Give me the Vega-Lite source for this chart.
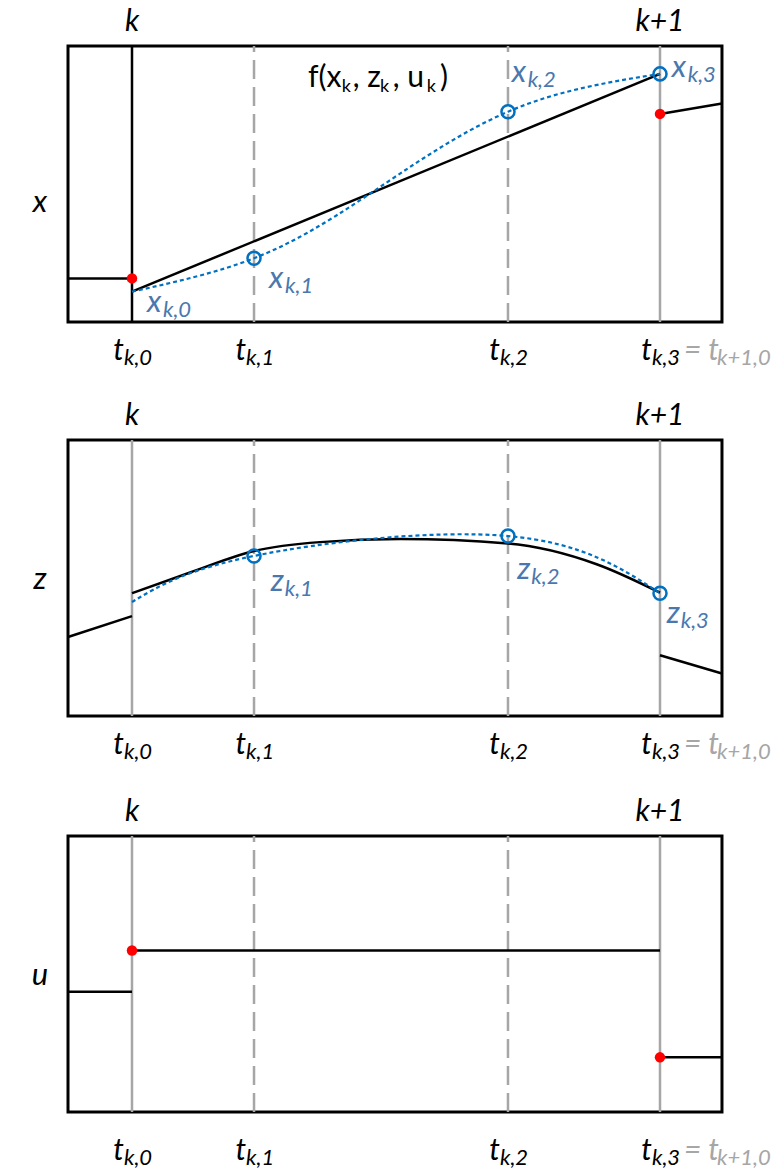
{
  "$schema": "https://vega.github.io/schema/vega-lite/v6.json",
  "padding": 0,
  "spacing": 0,
  "bounds": "flush",
  "background": "#ffffff",
  "config": {
    "view": {"stroke": null},
    "text": {"font": "Lato", "fontStyle": "italic", "baseline": "alphabetic", "align": "left"}
  },
  "resolve": {"scale": {"x": "independent", "y": "independent", "color": "independent", "strokeDash": "independent"}},
  "datasets": {
    "frame": [{"t": -0.1212, "t_end": 1.1174, "v": 0, "v_end": 1}],
    "guides_x": [
      {"t": 0, "v": 0, "v_end": 1, "kind": "start"},
      {"t": 0.2311, "v": 0, "v_end": 1, "kind": "colloc"},
      {"t": 0.7121, "v": 0, "v_end": 1, "kind": "colloc"},
      {"t": 1, "v": 0, "v_end": 1, "kind": "bound"}
    ],
    "guides_zu": [
      {"t": 0, "v": 0, "v_end": 1, "kind": "bound"},
      {"t": 0.2311, "v": 0, "v_end": 1, "kind": "colloc"},
      {"t": 0.7121, "v": 0, "v_end": 1, "kind": "colloc"},
      {"t": 1, "v": 0, "v_end": 1, "kind": "bound"}
    ],
    "steps": [{"t": 0, "v": 1.055, "txt": "k"}, {"t": 1, "v": 1.055, "txt": "k+1"}],
    "t_ticks": [
      {"t": 0, "v": -0.138, "sub": "k,0"},
      {"t": 0.2311, "v": -0.138, "sub": "k,1"},
      {"t": 0.7121, "v": -0.138, "sub": "k,2"},
      {"t": 1, "v": -0.138, "sub": "k,3"}
    ],
    "t_join": [{"t": 1, "v": -0.138, "sub": "k+1,0"}],
    "x_path": [
      {"seg": "prev", "t": -0.1212, "v": 0.158},
      {"seg": "prev", "t": 0, "v": 0.158},
      {"seg": "k", "t": 0, "v": 0.11},
      {"seg": "k", "t": 1, "v": 0.899},
      {"seg": "next", "t": 1, "v": 0.754},
      {"seg": "next", "t": 1.1174, "v": 0.792}
    ],
    "x_nodes": [
      {"j": 0, "t": 0, "v": 0.11},
      {"j": 1, "t": 0.2311, "v": 0.231},
      {"j": -1, "t": 0.4445, "v": 0.457},
      {"j": 2, "t": 0.7121, "v": 0.762},
      {"j": 3, "t": 1, "v": 0.899}
    ],
    "x_init": [{"t": 0, "v": 0.158}, {"t": 1, "v": 0.754}],
    "x_labels": [
      {"t": 0.0284, "v": 0.036, "main": "x", "sub": "k,0"},
      {"t": 0.2595, "v": 0.123, "main": "x", "sub": "k,1"},
      {"t": 0.7191, "v": 0.871, "main": "x", "sub": "k,2"},
      {"t": 1.0222, "v": 0.887, "main": "x", "sub": "k,3"}
    ],
    "f_text": [
      {"t": 0.3333, "v": 0.8525, "role": "main", "txt": "f(x"},
      {"t": 0.3972, "v": 0.834, "role": "sub", "txt": "k"},
      {"t": 0.418, "v": 0.8525, "role": "main", "txt": ", z"},
      {"t": 0.4697, "v": 0.834, "role": "sub", "txt": "k"},
      {"t": 0.4937, "v": 0.8525, "role": "main", "txt": ", u"},
      {"t": 0.5581, "v": 0.834, "role": "sub", "txt": "k"},
      {"t": 0.5833, "v": 0.8525, "role": "main", "txt": ")"}
    ],
    "z_path": [
      {"seg": "prev", "t": -0.1212, "v": 0.286},
      {"seg": "prev", "t": 0, "v": 0.362},
      {"seg": "k", "t": 0, "v": 0.445},
      {"seg": "k", "t": 0.11, "v": 0.52},
      {"seg": "k", "t": 0.2311, "v": 0.598},
      {"seg": "k", "t": 0.356, "v": 0.63},
      {"seg": "k", "t": 0.5076, "v": 0.641},
      {"seg": "k", "t": 0.7121, "v": 0.625},
      {"seg": "k", "t": 0.88, "v": 0.55},
      {"seg": "k", "t": 1, "v": 0.447},
      {"seg": "next", "t": 1, "v": 0.22},
      {"seg": "next", "t": 1.1174, "v": 0.154}
    ],
    "z_nodes": [
      {"j": 0, "t": 0, "v": 0.413},
      {"j": 1, "t": 0.2311, "v": 0.58},
      {"j": 2, "t": 0.7121, "v": 0.652},
      {"j": 3, "t": 1, "v": 0.445}
    ],
    "z_labels": [
      {"t": 0.2627, "v": 0.453, "main": "z", "sub": "k,1"},
      {"t": 0.7297, "v": 0.495, "main": "z", "sub": "k,2"},
      {"t": 1.0127, "v": 0.338, "main": "z", "sub": "k,3"}
    ],
    "u_path": [
      {"seg": "prev", "t": -0.1212, "v": 0.436},
      {"seg": "prev", "t": 0, "v": 0.436},
      {"seg": "k", "t": 0, "v": 0.585},
      {"seg": "k", "t": 1, "v": 0.585},
      {"seg": "next", "t": 1, "v": 0.198},
      {"seg": "next", "t": 1.1174, "v": 0.198}
    ],
    "u_init": [{"t": 0, "v": 0.585}, {"t": 1, "v": 0.198}],
    "names": [
      {"panel": "x", "t": -0.1742, "v": 0.399, "txt": "x"},
      {"panel": "z", "t": -0.1742, "v": 0.459, "txt": "z"},
      {"panel": "u", "t": -0.1742, "v": 0.46, "txt": "u"}
    ]
  },
  "vconcat": [
    {
      "width": 777,
      "height": 394,
      "encoding": {
        "x": {"field": "t", "type": "quantitative", "scale": {"domain": [-0.25, 1.2216], "nice": false, "zero": false}, "axis": null},
        "y": {"field": "v", "type": "quantitative", "scale": {"domain": [-0.2609, 1.1667], "nice": false, "zero": false}, "axis": null}
      },
      "layer": [
        {
          "data": {"name": "frame"},
          "mark": {"type": "rect", "filled": false, "stroke": "#000000", "strokeWidth": 3},
          "encoding": {"x2": {"field": "t_end"}, "y2": {"field": "v_end"}}
        },
        {
          "data": {"name": "guides_x"},
          "mark": {"type": "rule", "strokeWidth": 2.5},
          "encoding": {
            "y2": {"field": "v_end"},
            "color": {"field": "kind", "type": "nominal", "scale": {"domain": ["start", "colloc", "bound"], "range": ["#000000", "#A6A6A6", "#A6A6A6"]}, "legend": null},
            "strokeDash": {"field": "kind", "type": "nominal", "scale": {"domain": ["start", "colloc", "bound"], "range": [[1, 0], [19, 8], [1, 0]]}, "legend": null}
          }
        },
        {
          "data": {"name": "x_path"},
          "mark": {"type": "line", "color": "#000000", "strokeWidth": 2.5},
          "encoding": {"detail": {"field": "seg"}}
        },
        {
          "data": {"name": "x_nodes"},
          "mark": {"type": "line", "interpolate": "natural", "color": "#0070C0", "strokeWidth": 2.2, "strokeDash": [4, 3]},
          "encoding": {}
        },
        {
          "data": {"name": "x_nodes"},
          "transform": [{"filter": "datum.j > 0"}],
          "mark": {"type": "point", "filled": false, "color": "#0070C0", "size": 170, "strokeWidth": 2.5, "opacity": 1}
        },
        {
          "data": {"name": "x_init"},
          "mark": {"type": "circle", "color": "#FF0000", "size": 110, "opacity": 1}
        },
        {
          "data": {"name": "steps"},
          "mark": {"type": "text", "fontSize": 30, "align": "center"},
          "encoding": {"text": {"field": "txt"}}
        },
        {
          "data": {"name": "names"},
          "transform": [{"filter": "datum.panel == 'x'"}],
          "mark": {"type": "text", "fontSize": 31, "align": "center"},
          "encoding": {"text": {"field": "txt"}}
        },
        {
          "data": {"name": "t_ticks"},
          "mark": {"type": "text", "fontSize": 30, "align": "right", "dx": -8},
          "encoding": {"text": {"value": "t"}}
        },
        {
          "data": {"name": "t_ticks"},
          "mark": {"type": "text", "fontSize": 22, "align": "left", "dx": -8, "dy": 5},
          "encoding": {"text": {"field": "sub"}}
        },
        {
          "data": {"name": "t_join"},
          "mark": {"type": "text", "fontSize": 30, "align": "left", "dx": 24, "color": "#A6A6A6"},
          "encoding": {"text": {"value": "= t"}}
        },
        {
          "data": {"name": "t_join"},
          "mark": {"type": "text", "fontSize": 22, "align": "left", "dx": 57, "dy": 5, "color": "#A6A6A6"},
          "encoding": {"text": {"field": "sub"}}
        },
        {
          "data": {"name": "x_labels"},
          "mark": {"type": "text", "fontSize": 31, "align": "left", "color": "#4A78AE"},
          "encoding": {"text": {"field": "main"}}
        },
        {
          "data": {"name": "x_labels"},
          "mark": {"type": "text", "fontSize": 22, "align": "left", "dx": 16, "dy": 5, "color": "#4A78AE"},
          "encoding": {"text": {"field": "sub"}}
        },
        {
          "data": {"name": "f_text"},
          "transform": [{"filter": "datum.role == 'main'"}],
          "mark": {"type": "text", "fontSize": 30, "fontStyle": "normal", "align": "left"},
          "encoding": {"text": {"field": "txt"}}
        },
        {
          "data": {"name": "f_text"},
          "transform": [{"filter": "datum.role == 'sub'"}],
          "mark": {"type": "text", "fontSize": 18, "fontStyle": "normal", "align": "left"},
          "encoding": {"text": {"field": "txt"}}
        }
      ]
    },
    {
      "width": 777,
      "height": 394,
      "encoding": {
        "x": {"field": "t", "type": "quantitative", "scale": {"domain": [-0.25, 1.2216], "nice": false, "zero": false}, "axis": null},
        "y": {"field": "v", "type": "quantitative", "scale": {"domain": [-0.2609, 1.1667], "nice": false, "zero": false}, "axis": null}
      },
      "layer": [
        {
          "data": {"name": "frame"},
          "mark": {"type": "rect", "filled": false, "stroke": "#000000", "strokeWidth": 3},
          "encoding": {"x2": {"field": "t_end"}, "y2": {"field": "v_end"}}
        },
        {
          "data": {"name": "guides_zu"},
          "mark": {"type": "rule", "strokeWidth": 2.5},
          "encoding": {
            "y2": {"field": "v_end"},
            "color": {"field": "kind", "type": "nominal", "scale": {"domain": ["start", "colloc", "bound"], "range": ["#000000", "#A6A6A6", "#A6A6A6"]}, "legend": null},
            "strokeDash": {"field": "kind", "type": "nominal", "scale": {"domain": ["start", "colloc", "bound"], "range": [[1, 0], [19, 8], [1, 0]]}, "legend": null}
          }
        },
        {
          "data": {"name": "z_path"},
          "mark": {"type": "line", "interpolate": "monotone", "color": "#000000", "strokeWidth": 2.5},
          "encoding": {"detail": {"field": "seg"}}
        },
        {
          "data": {"name": "z_nodes"},
          "mark": {"type": "line", "interpolate": "natural", "color": "#0070C0", "strokeWidth": 2.2, "strokeDash": [4, 3]},
          "encoding": {}
        },
        {
          "data": {"name": "z_nodes"},
          "transform": [{"filter": "datum.j > 0"}],
          "mark": {"type": "point", "filled": false, "color": "#0070C0", "size": 170, "strokeWidth": 2.5, "opacity": 1}
        },
        {
          "data": {"name": "steps"},
          "mark": {"type": "text", "fontSize": 30, "align": "center"},
          "encoding": {"text": {"field": "txt"}}
        },
        {
          "data": {"name": "names"},
          "transform": [{"filter": "datum.panel == 'z'"}],
          "mark": {"type": "text", "fontSize": 31, "align": "center"},
          "encoding": {"text": {"field": "txt"}}
        },
        {
          "data": {"name": "t_ticks"},
          "mark": {"type": "text", "fontSize": 30, "align": "right", "dx": -8},
          "encoding": {"text": {"value": "t"}}
        },
        {
          "data": {"name": "t_ticks"},
          "mark": {"type": "text", "fontSize": 22, "align": "left", "dx": -8, "dy": 5},
          "encoding": {"text": {"field": "sub"}}
        },
        {
          "data": {"name": "t_join"},
          "mark": {"type": "text", "fontSize": 30, "align": "left", "dx": 24, "color": "#A6A6A6"},
          "encoding": {"text": {"value": "= t"}}
        },
        {
          "data": {"name": "t_join"},
          "mark": {"type": "text", "fontSize": 22, "align": "left", "dx": 57, "dy": 5, "color": "#A6A6A6"},
          "encoding": {"text": {"field": "sub"}}
        },
        {
          "data": {"name": "z_labels"},
          "mark": {"type": "text", "fontSize": 31, "align": "left", "color": "#4A78AE"},
          "encoding": {"text": {"field": "main"}}
        },
        {
          "data": {"name": "z_labels"},
          "mark": {"type": "text", "fontSize": 22, "align": "left", "dx": 14, "dy": 5, "color": "#4A78AE"},
          "encoding": {"text": {"field": "sub"}}
        }
      ]
    },
    {
      "width": 777,
      "height": 381,
      "encoding": {
        "x": {"field": "t", "type": "quantitative", "scale": {"domain": [-0.25, 1.2216], "nice": false, "zero": false}, "axis": null},
        "y": {"field": "v", "type": "quantitative", "scale": {"domain": [-0.2065, 1.1739], "nice": false, "zero": false}, "axis": null}
      },
      "layer": [
        {
          "data": {"name": "frame"},
          "mark": {"type": "rect", "filled": false, "stroke": "#000000", "strokeWidth": 3},
          "encoding": {"x2": {"field": "t_end"}, "y2": {"field": "v_end"}}
        },
        {
          "data": {"name": "guides_zu"},
          "mark": {"type": "rule", "strokeWidth": 2.5},
          "encoding": {
            "y2": {"field": "v_end"},
            "color": {"field": "kind", "type": "nominal", "scale": {"domain": ["start", "colloc", "bound"], "range": ["#000000", "#A6A6A6", "#A6A6A6"]}, "legend": null},
            "strokeDash": {"field": "kind", "type": "nominal", "scale": {"domain": ["start", "colloc", "bound"], "range": [[1, 0], [19, 8], [1, 0]]}, "legend": null}
          }
        },
        {
          "data": {"name": "u_path"},
          "mark": {"type": "line", "color": "#000000", "strokeWidth": 2.5},
          "encoding": {"detail": {"field": "seg"}}
        },
        {
          "data": {"name": "u_init"},
          "mark": {"type": "circle", "color": "#FF0000", "size": 110, "opacity": 1}
        },
        {
          "data": {"name": "steps"},
          "mark": {"type": "text", "fontSize": 30, "align": "center"},
          "encoding": {"text": {"field": "txt"}}
        },
        {
          "data": {"name": "names"},
          "transform": [{"filter": "datum.panel == 'u'"}],
          "mark": {"type": "text", "fontSize": 31, "align": "center"},
          "encoding": {"text": {"field": "txt"}}
        },
        {
          "data": {"name": "t_ticks"},
          "mark": {"type": "text", "fontSize": 30, "align": "right", "dx": -8, "dy": 10},
          "encoding": {"text": {"value": "t"}}
        },
        {
          "data": {"name": "t_ticks"},
          "mark": {"type": "text", "fontSize": 22, "align": "left", "dx": -8, "dy": 15},
          "encoding": {"text": {"field": "sub"}}
        },
        {
          "data": {"name": "t_join"},
          "mark": {"type": "text", "fontSize": 30, "align": "left", "dx": 24, "dy": 10, "color": "#A6A6A6"},
          "encoding": {"text": {"value": "= t"}}
        },
        {
          "data": {"name": "t_join"},
          "mark": {"type": "text", "fontSize": 22, "align": "left", "dx": 57, "dy": 15, "color": "#A6A6A6"},
          "encoding": {"text": {"field": "sub"}}
        }
      ]
    }
  ]
}
